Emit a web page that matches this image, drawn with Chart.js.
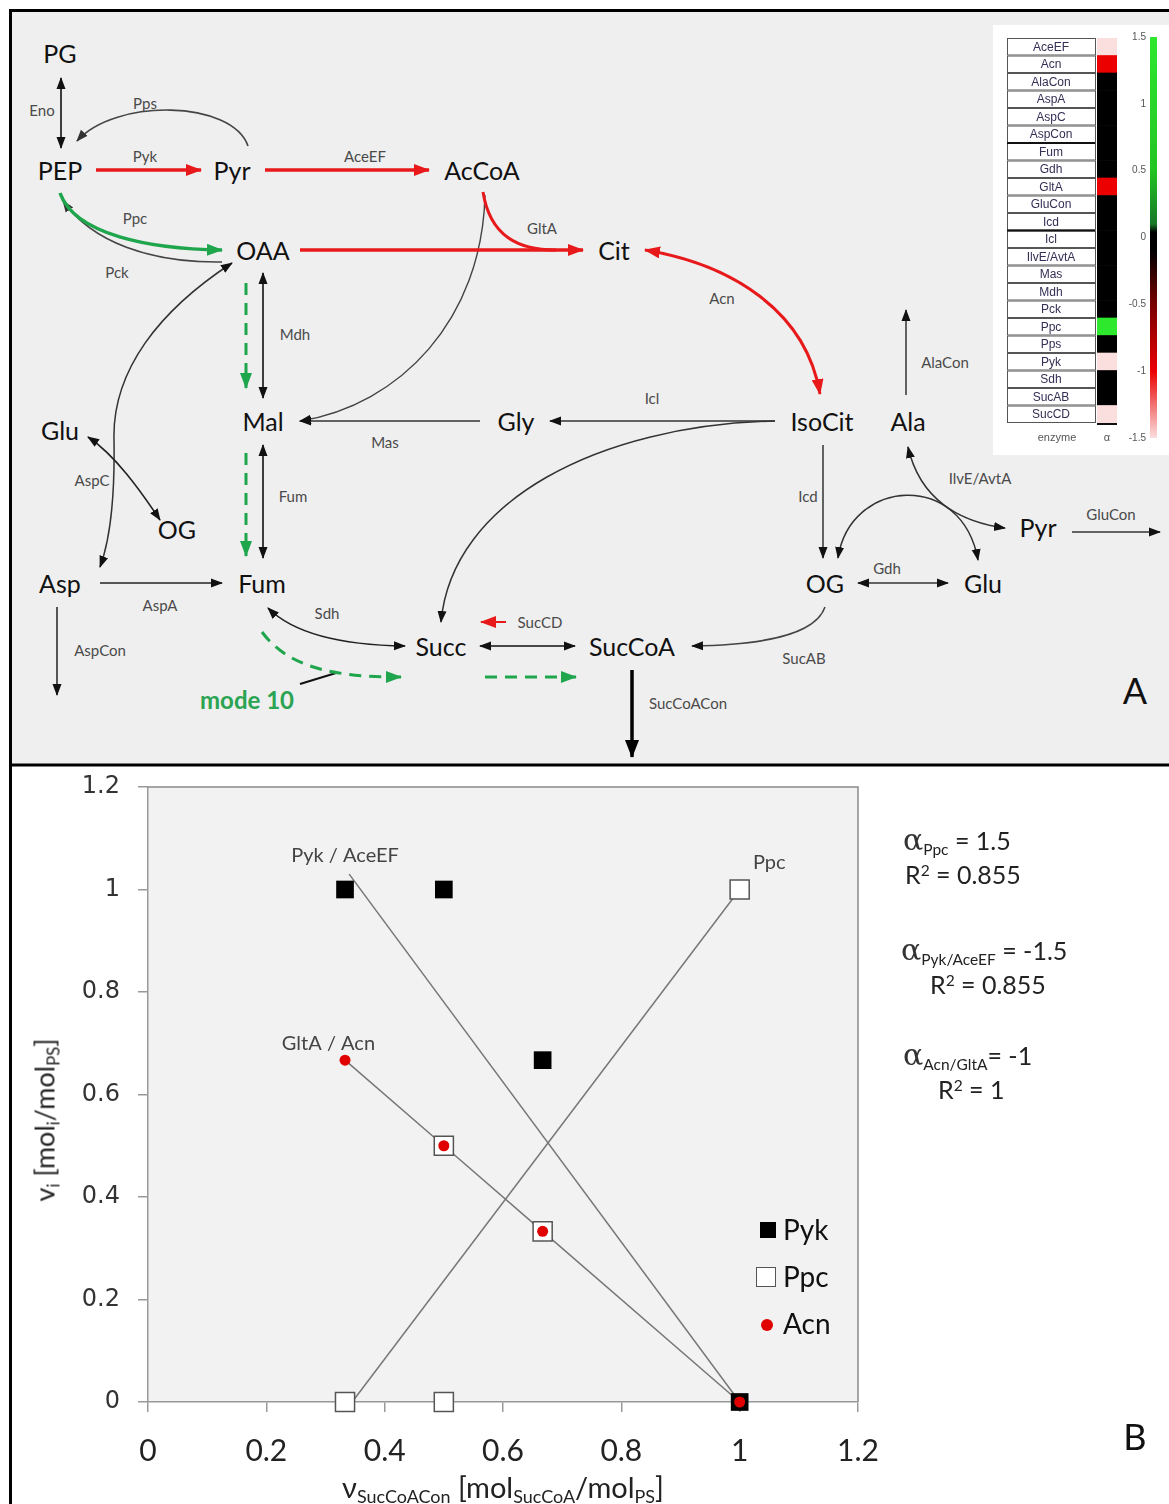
<!DOCTYPE html>
<html>
<head>
<meta charset="utf-8">
<script src="https://cdn.jsdelivr.net/npm/chart.js@4/dist/chart.umd.min.js"></script>
<style>
  html, body { margin: 0; padding: 0; background: #fff; }
  body { width: 1169px; height: 1504px; position: relative; overflow: hidden; font-family: Lato, "Open Sans", sans-serif; color: #222; }
  #panelA { position: absolute; left: 0; top: 0; }
  #heatWrap { position: absolute; left: 993px; top: 25px; width: 176px; height: 430px; }
  #chartWrap { position: absolute; left: 12px; top: 768px; width: 1157px; height: 736px; }
  #leftLine { position: absolute; left: 9px; top: 764px; width: 3px; height: 740px; background: #000; }
  .t { position: absolute; white-space: nowrap; transform: translate(-50%, -50%); }
  .l { position: absolute; white-space: nowrap; }
  sub { font-size: 62%; vertical-align: -0.3em; line-height: 0; }
  sup { font-size: 62%; vertical-align: 0.5em; line-height: 0; }
  .ann { font-size: 25px; color: #222; }
  .alpha { font-size: 30px; font-family: "DejaVu Serif", serif; color: #333; }
  .leg { font-size: 28px; color: #111; }
</style>
</head>
<body>

<svg id="panelA" width="1169" height="768" xmlns="http://www.w3.org/2000/svg" font-family="Lato, 'Open Sans', sans-serif">
  <defs>
    <marker id="hb" viewBox="0 0 12 10" refX="11" refY="5" markerWidth="12" markerHeight="10" markerUnits="userSpaceOnUse" orient="auto-start-reverse"><path d="M0,0.5 L12,5 L0,9.5 z" fill="#111"/></marker>
    <marker id="hg" viewBox="0 0 12 10" refX="11" refY="5" markerWidth="12" markerHeight="10" markerUnits="userSpaceOnUse" orient="auto-start-reverse"><path d="M0,0.5 L12,5 L0,9.5 z" fill="#333"/></marker>
    <marker id="hr" viewBox="0 0 16 12" refX="15" refY="6" markerWidth="16" markerHeight="12" markerUnits="userSpaceOnUse" orient="auto-start-reverse"><path d="M0,0 L16,6 L0,12 z" fill="#e8191a"/></marker>
    <marker id="hgr" viewBox="0 0 16 12" refX="15" refY="6" markerWidth="16" markerHeight="12" markerUnits="userSpaceOnUse" orient="auto-start-reverse"><path d="M0,0 L16,6 L0,12 z" fill="#1fa64d"/></marker>
    <marker id="hbig" viewBox="0 0 18 14" refX="17" refY="7" markerWidth="18" markerHeight="14" markerUnits="userSpaceOnUse" orient="auto"><path d="M0,0 L18,7 L0,14 z" fill="#000"/></marker>
  </defs>
  <rect x="10.5" y="10.5" width="1170" height="754.5" fill="#efefef" stroke="#000" stroke-width="3"/>

  <g fill="none" stroke-linecap="butt">
    <!-- black / grey reactions -->
    <path d="M61,78 L61,148" stroke="#111" stroke-width="1.6" marker-start="url(#hb)" marker-end="url(#hb)"/>
    <path d="M248,146 C232,100 115,98 77,141" stroke="#444" stroke-width="1.6" marker-end="url(#hg)"/>
    <path d="M222,262 C150,263 92,242 63,201" stroke="#444" stroke-width="1.6" marker-end="url(#hg)"/>
    <path d="M485,195 C482,320 400,405 300,421" stroke="#444" stroke-width="1.4" marker-end="url(#hb)"/>
    <path d="M263,273 L263,398" stroke="#111" stroke-width="1.6" marker-start="url(#hb)" marker-end="url(#hb)"/>
    <path d="M263,445 L263,558" stroke="#111" stroke-width="1.6" marker-start="url(#hb)" marker-end="url(#hb)"/>
    <path d="M480,421 L300,421" stroke="#333" stroke-width="1.6" marker-end="url(#hb)"/>
    <path d="M775,421 L550,421" stroke="#333" stroke-width="1.6" marker-end="url(#hb)"/>
    <path d="M775,421 C600,425 452,500 441,622" stroke="#333" stroke-width="1.5" marker-end="url(#hb)"/>
    <path d="M823,445 L823,558" stroke="#333" stroke-width="1.5" marker-end="url(#hb)"/>
    <path d="M906,395 L906,310" stroke="#333" stroke-width="1.5" marker-end="url(#hb)"/>
    <path d="M908,447 C920,500 960,522 1005,528" stroke="#333" stroke-width="1.5" marker-start="url(#hb)" marker-end="url(#hb)"/>
    <path d="M838,558 C850,478 962,470 978,560" stroke="#333" stroke-width="1.5" marker-start="url(#hb)" marker-end="url(#hb)"/>
    <path d="M858,583 L948,583" stroke="#333" stroke-width="1.5" marker-start="url(#hb)" marker-end="url(#hb)"/>
    <path d="M1072,532 L1160,532" stroke="#333" stroke-width="1.5" marker-end="url(#hb)"/>
    <path d="M825,607 C815,636 760,645 692,646" stroke="#444" stroke-width="1.5" marker-end="url(#hb)"/>
    <path d="M480,646 L575,646" stroke="#111" stroke-width="1.6" marker-start="url(#hb)" marker-end="url(#hb)"/>
    <path d="M405,646 C330,645 290,630 268,608" stroke="#222" stroke-width="1.6" marker-start="url(#hb)" marker-end="url(#hb)"/>
    <path d="M232,263 C160,310 112,370 114,440 C115,500 110,540 100,567" stroke="#333" stroke-width="1.5" marker-start="url(#hb)" marker-end="url(#hb)"/>
    <path d="M88,437 C115,455 140,490 160,520" stroke="#222" stroke-width="1.6" marker-start="url(#hb)" marker-end="url(#hb)"/>
    <path d="M100,583 L222,583" stroke="#222" stroke-width="1.5" marker-end="url(#hb)"/>
    <path d="M57,607 L57,695" stroke="#222" stroke-width="1.5" marker-end="url(#hb)"/>
    <path d="M300,684 L336,673" stroke="#111" stroke-width="2"/>
    <path d="M632,670 L632,757" stroke="#000" stroke-width="3.5" marker-end="url(#hbig)"/>

    <!-- red (negative alpha) -->
    <path d="M96,170 L201,170" stroke="#e8191a" stroke-width="3.5" marker-end="url(#hr)"/>
    <path d="M265,170 L429,170" stroke="#e8191a" stroke-width="3.5" marker-end="url(#hr)"/>
    <path d="M300,250 L583,250" stroke="#e8191a" stroke-width="3.5" marker-end="url(#hr)"/>
    <path d="M483,192 C490,236 518,250 556,250" stroke="#e8191a" stroke-width="3"/>
    <path d="M645,250 C730,264 806,310 820,394" stroke="#e8191a" stroke-width="3" marker-start="url(#hr)" marker-end="url(#hr)"/>
    <path d="M506,622 L481,622" stroke="#e8191a" stroke-width="2" marker-end="url(#hr)"/>

    <!-- green (positive alpha / mode 10) -->
    <path d="M60,193 C75,235 150,249 222,250" stroke="#1fa64d" stroke-width="3.5" marker-end="url(#hgr)"/>
    <path d="M246,283 L246,388" stroke="#1fa64d" stroke-width="3" stroke-dasharray="12 8" marker-end="url(#hgr)"/>
    <path d="M246,453 L246,556" stroke="#1fa64d" stroke-width="3" stroke-dasharray="12 8" marker-end="url(#hgr)"/>
    <path d="M262,632 C290,670 340,677 401,677" stroke="#1fa64d" stroke-width="3" stroke-dasharray="12 8" marker-end="url(#hgr)"/>
    <path d="M485,677 L576,677" stroke="#1fa64d" stroke-width="3" stroke-dasharray="12 8" marker-end="url(#hgr)"/>
  </g>

  <g font-size="25" fill="#111" text-anchor="middle" dominant-baseline="central">
    <text x="60" y="53">PG</text>
    <text x="60" y="170">PEP</text>
    <text x="232" y="170">Pyr</text>
    <text x="482" y="170">AcCoA</text>
    <text x="263" y="250">OAA</text>
    <text x="614" y="250">Cit</text>
    <text x="60" y="430">Glu</text>
    <text x="263" y="421">Mal</text>
    <text x="516" y="421">Gly</text>
    <text x="822" y="421">IsoCit</text>
    <text x="908" y="421">Ala</text>
    <text x="177" y="529">OG</text>
    <text x="60" y="583">Asp</text>
    <text x="262" y="583">Fum</text>
    <text x="825" y="583">OG</text>
    <text x="983" y="583">Glu</text>
    <text x="1038" y="527">Pyr</text>
    <text x="441" y="646">Succ</text>
    <text x="632" y="646">SucCoA</text>
  </g>
  <g font-size="15" fill="#4a4a4a" text-anchor="middle" dominant-baseline="central">
    <text x="42" y="110">Eno</text>
    <text x="145" y="103">Pps</text>
    <text x="145" y="156">Pyk</text>
    <text x="365" y="156">AceEF</text>
    <text x="135" y="218">Ppc</text>
    <text x="117" y="272">Pck</text>
    <text x="542" y="228">GltA</text>
    <text x="722" y="298">Acn</text>
    <text x="295" y="334">Mdh</text>
    <text x="945" y="362">AlaCon</text>
    <text x="652" y="398">Icl</text>
    <text x="385" y="442">Mas</text>
    <text x="92" y="480">AspC</text>
    <text x="293" y="496">Fum</text>
    <text x="980" y="478">IlvE/AvtA</text>
    <text x="1111" y="514">GluCon</text>
    <text x="808" y="496">Icd</text>
    <text x="887" y="568">Gdh</text>
    <text x="160" y="605">AspA</text>
    <text x="327" y="613">Sdh</text>
    <text x="540" y="622">SucCD</text>
    <text x="100" y="650">AspCon</text>
    <text x="804" y="658">SucAB</text>
    <text x="688" y="703">SucCoACon</text>
  </g>
  <text x="247" y="699" font-size="24" font-weight="bold" fill="#2aa452" text-anchor="middle" dominant-baseline="central">mode 10</text>
  <text x="1135" y="690" font-size="36" fill="#111" text-anchor="middle" dominant-baseline="central">A</text>
</svg>

<div id="heatWrap"><canvas id="heat"></canvas></div>
<div id="leftLine"></div>
<div id="chartWrap"><canvas id="chart"></canvas></div>

<!-- axis titles, fit notes and legend of panel B -->
<div class="t" style="left:44px; top:1120px; font-size:27px; transform: translate(-50%,-50%) rotate(-90deg);">v<sub>i</sub> [mol<sub>i</sub>/mol<sub>PS</sub>]</div>
<div class="t" style="left:503px; top:1486px; font-size:29px;">ν<sub>SucCoACon</sub> [mol<sub>SucCoA</sub>/mol<sub>PS</sub>]</div>

<div class="l ann" style="left:903px; top:822px;"><span class="alpha">α</span><sub>Ppc</sub> = 1.5</div>
<div class="l ann" style="left:905px; top:859px;">R<sup>2</sup> = 0.855</div>
<div class="l ann" style="left:901px; top:932px;"><span class="alpha">α</span><sub>Pyk/AceEF</sub> = -1.5</div>
<div class="l ann" style="left:930px; top:969px;">R<sup>2</sup> = 0.855</div>
<div class="l ann" style="left:903px; top:1037px;"><span class="alpha">α</span><sub>Acn/GltA</sub>= -1</div>
<div class="l ann" style="left:938px; top:1074px;">R<sup>2</sup> = 1</div>

<div class="l" style="left:760px; top:1222px; width:16px; height:16px; background:#000;"></div>
<div class="l leg" style="left:783px; top:1212px;">Pyk</div>
<div class="l" style="left:756px; top:1267px; width:18px; height:18px; background:#fff; border:1.5px solid #555;"></div>
<div class="l leg" style="left:783px; top:1259px;">Ppc</div>
<div class="l" style="left:761px; top:1319px; width:12px; height:12px; border-radius:6px; background:#e00000;"></div>
<div class="l leg" style="left:783px; top:1306px;">Acn</div>

<div class="t" style="left:1135px; top:1436px; font-size:36px; color:#111;">B</div>

<script>
// ---- panel A heatmap: enzyme alpha values ----
const enzymes = ['AceEF', 'Acn', 'AlaCon', 'AspA', 'AspC', 'AspCon', 'Fum', 'Gdh', 'GltA', 'GluCon', 'Icd',
                 'Icl', 'IlvE/AvtA', 'Mas', 'Mdh', 'Pck', 'Ppc', 'Pps', 'Pyk', 'Sdh', 'SucAB', 'SucCD'];
const alphas = [-1.5, -1, 0, 0, 0, 0, 0, 0, -1, 0, 0,
                0, 0, 0, 0, 0, 1.5, 0, -1.5, 0, 0, -1.5];
const cbTicks = [1.5, 1, 0.5, 0, -0.5, -1, -1.5];
const cbTickLabels = ['1.5', '1', '0.5', '0', '-0.5', '-1', '-1.5'];

// ---- panel B: flux vs SucCoACon ----
const pykX = [0.333, 0.5, 0.667, 1];
const pykY = [1, 1, 0.667, 0];
const ppcX = [0.333, 0.5, 0.5, 0.667, 1];
const ppcY = [0, 0, 0.5, 0.333, 1];
const acnX = [0.333, 0.5, 0.667, 1];
const acnY = [0.667, 0.5, 0.333, 0];
// fitted lines as drawn in the figure
const pykFitX = [0.34, 1];
const pykFitY = [1.03, 0];
const ppcFitX = [0.345, 1];
const ppcFitY = [0, 1];
const xTickLabels = ['0', '0.2', '0.4', '0.6', '0.8', '1', '1.2'];
const yTickLabels = ['0', '0.2', '0.4', '0.6', '0.8', '1', '1.2'];

const toPts = (xs, ys) => xs.map((x, i) => ({ x: x, y: ys[i] }));

// colour scale of the alpha bar
const stops = [
    [1.5, [46, 232, 46]], [0.5, [34, 196, 34]], [0.1, [24, 120, 40]], [0.04, [0, 0, 0]],
    [-0.1, [0, 0, 0]], [-0.5, [120, 0, 0]], [-1, [236, 0, 0]], [-1.2, [240, 90, 90]], [-1.5, [251, 222, 222]]
];
function alphaColor(v) {
    for (let i = 0; i < stops.length - 1; i++) {
        const [a, ca] = stops[i], [b, cb] = stops[i + 1];
        if (v <= a && v >= b) {
            const t = a === b ? 0 : (a - v) / (a - b);
            const c = ca.map((k, j) => Math.round(k + (cb[j] - k) * t));
            return `rgb(${c[0]},${c[1]},${c[2]})`;
        }
    }
    return v > 0 ? 'rgb(46,232,46)' : 'rgb(251,222,222)';
}

// heatmap chart
const heatPlugin = {
    id: 'heatExtras',
    beforeDraw(chart) {
        const ctx = chart.ctx;
        ctx.save();
        ctx.fillStyle = '#fff';
        ctx.fillRect(0, 0, chart.width, chart.height);
        ctx.restore();
    },
    afterDraw(chart) {
        const ctx = chart.ctx, y = chart.scales.y, area = chart.chartArea;
        const rowH = (area.bottom - area.top) / enzymes.length;
        ctx.save();
        ctx.font = '12px "Liberation Sans", Arial, sans-serif';
        ctx.textAlign = 'center';
        ctx.textBaseline = 'middle';
        enzymes.forEach((name, i) => {
            const cy = y.getPixelForValue(i);
            ctx.fillStyle = '#fff';
            ctx.fillRect(14, cy - rowH / 2, 88, rowH);
            ctx.strokeStyle = '#555';
            ctx.lineWidth = 1;
            ctx.strokeRect(14.5, cy - rowH / 2 + 0.5, 88, rowH - 1);
            ctx.fillStyle = '#332f55';
            ctx.fillText(name, 58, cy + 0.5);
        });
        // heavier group separators
        ctx.strokeStyle = '#111';
        ctx.lineWidth = 2;
        [6, 11].forEach(i => {
            const yy = y.getPixelForValue(i) - rowH / 2;
            ctx.beginPath(); ctx.moveTo(14, yy); ctx.lineTo(102, yy); ctx.stroke();
        });
        ctx.beginPath(); ctx.moveTo(104, area.bottom + 1); ctx.lineTo(124, area.bottom + 1); ctx.stroke();

        // colour bar
        const top = 12, bot = 413, bx = 157, bw = 7;
        const grad = ctx.createLinearGradient(0, top, 0, bot);
        stops.forEach(([v, c]) => grad.addColorStop((1.5 - v) / 3, `rgb(${c[0]},${c[1]},${c[2]})`));
        ctx.fillStyle = grad;
        ctx.fillRect(bx, top, bw, bot - top);
        ctx.font = '10px "Liberation Sans", Arial, sans-serif';
        ctx.fillStyle = '#555';
        ctx.textAlign = 'right';
        cbTicks.forEach((v, i) => {
            const yy = top + (1.5 - v) / 3 * (bot - top);
            ctx.fillText(cbTickLabels[i], bx - 4, yy);
        });
        ctx.textAlign = 'center';
        ctx.font = '11px "Liberation Sans", Arial, sans-serif';
        ctx.fillText('enzyme', 64, 413);
        ctx.fillText('α', 114, 413);
        ctx.restore();
    }
};

new Chart(document.getElementById('heat'), {
    type: 'bar',
    data: {
        labels: enzymes,
        datasets: [{
            data: enzymes.map(() => 1),
            backgroundColor: alphas.map(alphaColor),
            borderWidth: 0,
            barPercentage: 1,
            categoryPercentage: 1
        }]
    },
    options: {
        indexAxis: 'y',
        responsive: true,
        maintainAspectRatio: false,
        animation: false,
        layout: { padding: { left: 104, right: 52, top: 13, bottom: 32 } },
        plugins: { legend: { display: false }, tooltip: { enabled: false } },
        scales: {
            x: { display: false, min: 0, max: 1 },
            y: { display: false }
        }
    },
    plugins: [heatPlugin]
});

// scatter chart
const pointNotes = [
    { text: 'Pyk / AceEF', x: 0.333, y: 1.067 },
    { text: 'Ppc', x: 1.05, y: 1.053 },
    { text: 'GltA / Acn', x: 0.305, y: 0.699 }
];

const plotPlugin = {
    id: 'plotExtras',
    beforeDraw(chart) {
        const { ctx, chartArea: a } = chart;
        ctx.save();
        ctx.fillStyle = '#f2f2f2';
        ctx.fillRect(a.left, a.top, a.right - a.left, a.bottom - a.top);
        ctx.strokeStyle = '#8a8a8a';
        ctx.lineWidth = 1.5;
        ctx.beginPath();
        ctx.moveTo(a.left, a.top); ctx.lineTo(a.right, a.top); ctx.lineTo(a.right, a.bottom);
        ctx.stroke();
        ctx.restore();
    },
    afterDatasetsDraw(chart) {
        const { ctx, scales } = chart;
        ctx.save();
        ctx.font = '20px Lato, "Open Sans", sans-serif';
        ctx.fillStyle = '#444';
        ctx.textAlign = 'center';
        ctx.textBaseline = 'middle';
        pointNotes.forEach(n => ctx.fillText(n.text, scales.x.getPixelForValue(n.x), scales.y.getPixelForValue(n.y)));
        ctx.restore();
    }
};

const fitLine = (xs, ys) => ({
    type: 'line',
    data: toPts(xs, ys),
    borderColor: '#777',
    borderWidth: 1.5,
    pointRadius: 0,
    fill: false,
    order: 10,
    clip: false
});

new Chart(document.getElementById('chart'), {
    type: 'scatter',
    data: {
        datasets: [
            fitLine(pykFitX, pykFitY),
            fitLine(ppcFitX, ppcFitY),
            fitLine(acnX, acnY),
            { label: 'Ppc', data: toPts(ppcX, ppcY), pointStyle: 'rect', pointRadius: 13.5,
              backgroundColor: '#fff', borderColor: '#555', borderWidth: 1.5, order: 3, clip: false },
            { label: 'Pyk', data: toPts(pykX, pykY), pointStyle: 'rect', pointRadius: 12.5,
              backgroundColor: '#000', borderColor: '#000', borderWidth: 0, order: 2, clip: false },
            { label: 'Acn', data: toPts(acnX, acnY), pointStyle: 'circle', pointRadius: 5.5,
              backgroundColor: '#e00000', borderColor: '#e00000', borderWidth: 0, order: 1, clip: false }
        ]
    },
    options: {
        responsive: true,
        maintainAspectRatio: false,
        animation: false,
        layout: { padding: { left: 0, right: 311, top: 19, bottom: 0 } },
        plugins: { legend: { display: false }, tooltip: { enabled: false } },
        scales: {
            x: {
                type: 'linear', min: 0, max: 1.2,
                afterFit: s => { s.height = 102; },
                ticks: { stepSize: 0.2, padding: 21, color: '#222',
                         font: { family: 'Lato, "Open Sans", sans-serif', size: 30 },
                         callback: (v, i) => xTickLabels[i] },
                grid: { drawOnChartArea: false, tickLength: 10, color: '#999', lineWidth: 1.5 },
                border: { color: '#999', width: 1.5 }
            },
            y: {
                type: 'linear', min: 0, max: 1.2,
                afterFit: s => { s.width = 136; s.paddingTop = 0; s.paddingBottom = 0; },
                ticks: { stepSize: 0.2, padding: 18, color: '#333',
                         font: { family: '"DejaVu Sans", Verdana, sans-serif', size: 24 },
                         callback: (v, i) => yTickLabels[i] },
                grid: { drawOnChartArea: false, tickLength: 10, color: '#999', lineWidth: 1.5 },
                border: { color: '#999', width: 1.5 }
            }
        }
    },
    plugins: [plotPlugin]
});
</script>
</body>
</html>
